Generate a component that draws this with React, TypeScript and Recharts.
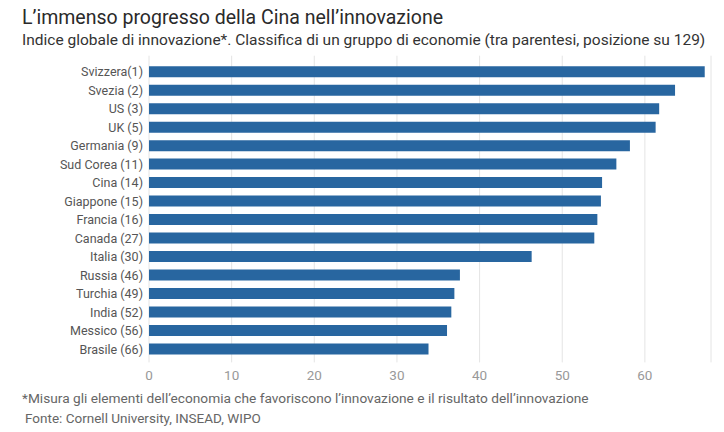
import React from "react";
import { BarChart, Bar, XAxis, YAxis, CartesianGrid } from "recharts";

const categories = [
  "Svizzera(1)",
  "Svezia (2)",
  "US (3)",
  "UK (5)",
  "Germania (9)",
  "Sud Corea (11)",
  "Cina (14)",
  "Giappone (15)",
  "Francia (16)",
  "Canada (27)",
  "Italia (30)",
  "Russia (46)",
  "Turchia (49)",
  "India (52)",
  "Messico (56)",
  "Brasile (66)",
];
const values = [67.24, 63.65, 61.73, 61.3, 58.19, 56.55, 54.82, 54.68, 54.25, 53.88, 46.3, 37.62, 36.95, 36.58, 36.06, 33.82];
const xTicks = [0, 10, 20, 30, 40, 50, 60];

const title = "L\u2019immenso progresso della Cina nell\u2019innovazione";
const subtitle = "Indice globale di innovazione*. Classifica di un gruppo di economie (tra parentesi, posizione su 129)";
const footnote = "*Misura gli elementi dell\u2019economia che favoriscono l\u2019innovazione e il risultato dell\u2019innovazione";
const source = "Fonte: Cornell University, INSEAD, WIPO";

const data = categories.map((name, i) => ({ name, value: values[i] }));

const FONT = "Roboto, 'Noto Sans', sans-serif";

const GridLine = (props: any) => {
  const { x1, x2, y1, y2 } = props;
  return <line x1={x1} x2={x2} y1={y1 - 7} y2={y2 + 4} stroke="#e4e4e4" strokeWidth={1} />;
};

export default function App() {
  return (
    <div style={{ position: "absolute", left: 0, top: 0, width: 724, height: 432, background: "#fff", fontFamily: FONT }}>
      <div style={{ position: "absolute", left: 22, top: 6, fontSize: 19.5, color: "#2a2a2a", whiteSpace: "nowrap" }}>{title}</div>
      <div style={{ position: "absolute", left: 22, top: 31, fontSize: 15.5, color: "#333", whiteSpace: "nowrap" }}>{subtitle}</div>
      <div style={{ position: "absolute", left: 0, top: 0 }}>
        <BarChart
          width={724}
          height={432}
          data={data}
          layout="vertical"
          margin={{ top: 62.7, right: 13, bottom: 53.6, left: 0 }}
          barCategoryGap="19%"
        >
          <CartesianGrid horizontal={false} vertical={GridLine} />
          <XAxis
            type="number"
            domain={[0, 68]}
            ticks={xTicks}
            axisLine={false}
            tickLine={false}
            tickSize={0}
            tickMargin={12}
            height={20}
            tick={{ fill: "#999", fontSize: 13.5, fontFamily: FONT }}
            interval={0}
          />
          <YAxis
            type="category"
            dataKey="name"
            width={149}
            axisLine={false}
            tickLine={false}
            tickSize={0}
            tickMargin={6}
            tick={{ fill: "#555", fontSize: 12.5, fontFamily: FONT }}
            interval={0}
          />
          <Bar dataKey="value" fill="#2866a0" isAnimationActive={false} />
        </BarChart>
      </div>
      <div style={{ position: "absolute", left: 22, top: 390, fontSize: 13.7, color: "#666", whiteSpace: "nowrap" }}>{footnote}</div>
      <div style={{ position: "absolute", left: 25, top: 410, fontSize: 13.5, color: "#666", whiteSpace: "nowrap" }}>{source}</div>
    </div>
  );
}
